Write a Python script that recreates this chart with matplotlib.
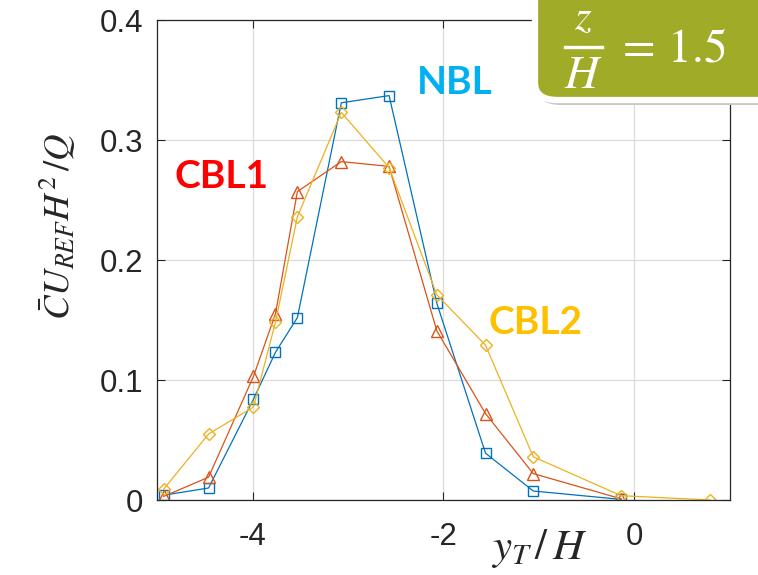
import matplotlib
matplotlib.use("Agg")
import matplotlib.pyplot as plt
from matplotlib.patches import FancyBboxPatch
from matplotlib.lines import Line2D

plt.rcParams['mathtext.fontset'] = 'stix'
plt.rcParams['font.family'] = ['Liberation Sans', 'DejaVu Sans']

# Lateral position y_T/H at each measurement station
y_nbl = [-4.93, -4.46, -3.99, -3.76, -3.53, -3.07, -2.57, -2.07, -1.56, -1.06, -0.14]
c_nbl = [0.004, 0.010, 0.084, 0.123, 0.152, 0.331, 0.337, 0.164, 0.039, 0.0075, 0.0005]

y_cbl1 = [-4.93, -4.46, -3.99, -3.76, -3.53, -3.07, -2.57, -2.07, -1.56, -1.06, -0.14]
c_cbl1 = [0.003, 0.019, 0.103, 0.155, 0.257, 0.282, 0.278, 0.141, 0.072, 0.022, 0.001]

y_cbl2 = [-4.93, -4.46, -3.99, -3.76, -3.53, -3.07, -2.57, -2.07, -1.56, -1.06, -0.14, 0.79]
c_cbl2 = [0.009, 0.055, 0.0775, 0.148, 0.236, 0.323, 0.277, 0.171, 0.129, 0.036, 0.0036, 0.0]

x_ticks = [-4, -2, 0]
y_ticks = [0, 0.1, 0.2, 0.3, 0.4]
y_tick_labels = ['0', '0.1', '0.2', '0.3', '0.4']

W, H = 758, 575
fig = plt.figure(figsize=(W / 100, H / 100), dpi=100)
ax = fig.add_axes([157 / W, (H - 500) / H, 573 / W, 480 / H])

blue, red, yellow = '#0072BD', '#D95319', '#EDB120'
ax.plot(y_nbl, c_nbl, color=blue, lw=0.9, marker='s', ms=7, mfc='none', mew=1.0)
ax.plot(y_cbl1, c_cbl1, color=red, lw=0.9, marker='^', ms=8, mfc='none', mew=1.0)
ax.plot(y_cbl2, c_cbl2, color=yellow, lw=0.9, marker='D', ms=6.5, mfc='none', mew=1.0)

ax.set_xlim(-5, 1)
ax.set_ylim(0, 0.4)
ax.set_xticks(x_ticks)
ax.set_xticklabels([str(t) for t in x_ticks])
ax.set_yticks(y_ticks)
ax.set_yticklabels(y_tick_labels)
ax.grid(True, color='#dcdcdc', lw=0.9)
ax.set_axisbelow(True)
ax.tick_params(direction='in', top=True, right=True, length=6, width=0.8,
               labelsize=22.5, colors='#262626')
ax.tick_params(axis='x', pad=16)
ax.tick_params(axis='y', pad=10)
for s in ax.spines.values():
    s.set_color('#262626')
    s.set_linewidth(0.9)

ax.set_ylabel(r'$\bar{C}U_{REF}H^2\,/Q$', fontsize=26.5, color='#262626')
ax.yaxis.set_label_coords((78 - 157) / 573, (500 - 226) / 480)
fig.text(539 / W, 1 - 549 / H, r'$y_T\,/\,H$', fontsize=31, color='#262626',
         ha='center', va='center')

# Series labels
fig.text(455 / W, 1 - 82 / H, 'NBL', color='#00B0F0', fontsize=28,
         fontweight='bold', family='Lato', ha='center', va='center')
fig.text(221 / W, 1 - 177 / H, 'CBL1', color='#FF0000', fontsize=28,
         fontweight='bold', family='Lato', ha='center', va='center')
fig.text(536 / W, 1 - 322 / H, 'CBL2', color='#FFC000', fontsize=28,
         fontweight='bold', family='Lato', ha='center', va='center')

# Height tag in the top-right corner
shadow = FancyBboxPatch((538 / W, 1 - 105 / H), 300 / W, 160 / H,
                        boxstyle='round,pad=0,rounding_size=0.03',
                        transform=fig.transFigure, fc='#c8c8c8', ec='none',
                        zorder=5, clip_on=False)
tag = FancyBboxPatch((535 / W, 1 - 100 / H), 300 / W, 160 / H,
                     boxstyle='round,pad=0,rounding_size=0.03',
                     transform=fig.transFigure, fc='#A0AC28', ec='white',
                     lw=4.5, zorder=6, clip_on=False)
fig.patches.extend([shadow, tag])
fig.text(583 / W, 1 - 18 / H, r'$z$', color='white', fontsize=31,
         ha='center', va='center', zorder=7)
fig.lines.append(Line2D([565 / W, 602 / W], [1 - 47 / H, 1 - 47 / H],
                        transform=fig.transFigure, color='white', lw=2.4, zorder=7))
fig.text(583 / W, 1 - 76 / H, r'$H$', color='white', fontsize=34,
         ha='center', va='center', zorder=7)
fig.text(616 / W, 1 - 49 / H, r'$=\,1.5$', color='white', fontsize=34,
         ha='left', va='center', zorder=7)

fig.savefig('out.png', dpi=100)
